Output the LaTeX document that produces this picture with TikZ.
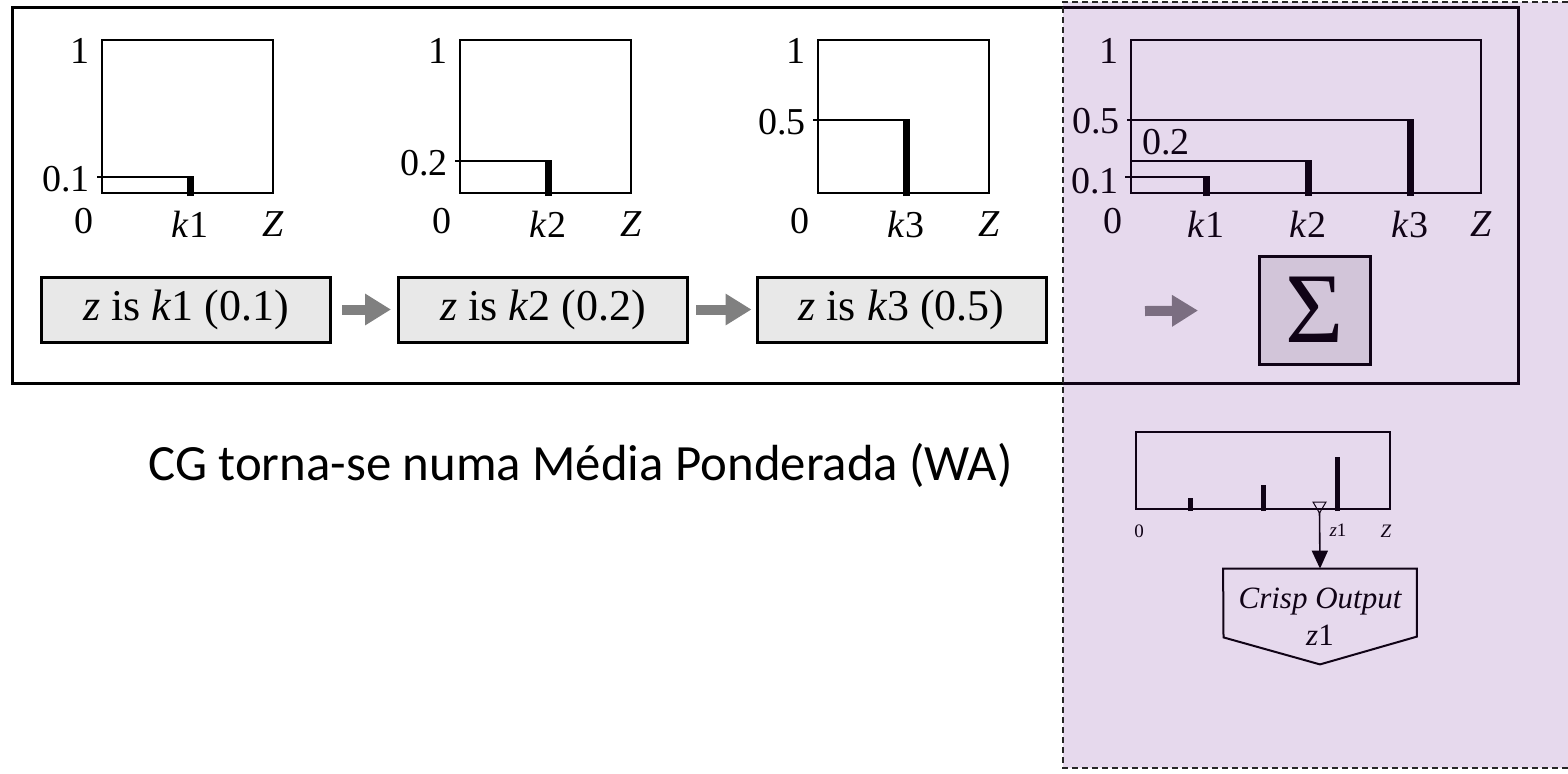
\documentclass[tikz,border=0pt]{standalone}
\usepackage{fontspec}
\setmainfont{Liberation Serif}
\newfontfamily\cgfont{Carlito}
\usetikzlibrary{arrows.meta, positioning}

\definecolor{rulefill}{RGB}{232,232,232}
\definecolor{arrowgrey}{RGB}{128,128,128}
\definecolor{tintpurple}{RGB}{100,20,140}

\tikzset{
  frame/.style={line width=1.5pt},
  axis/.style={line width=0.6pt},
  bar/.style={line width=3.5pt},
  lbl/.style={inner sep=0pt, font=\fontsize{19}{21}\selectfont},
  small/.style={inner sep=0pt, font=\fontsize{9.5}{11}\selectfont},
  rulebox/.style={draw, line width=1.5pt, fill=rulefill, minimum height=32.5pt,
    minimum width=144.5pt, font=\fontsize{22}{24}\selectfont},
  flow/.style={draw=arrowgrey, line width=5pt,
    -{Triangle[length=13pt, width=15pt]}}
}

\begin{document}
\begin{tikzpicture}[x=0.5pt, y=-0.5pt]
\useasboundingbox (0,0) rectangle (1568,773);

% outer frame round the rule chain
\draw[frame] (12,7) rectangle (1518,383);

% one small chart per fired rule
\foreach \i/\L/\lv/\lvl in {1/102/177/0.1, 2/460/161/0.2, 3/818/120/0.5}
{
  \draw[axis] (\L,40) rectangle ({\L+171},193);
  \draw[axis] ({\L-5},\lv) -- ({\L+88},\lv);
  \draw[bar] ({\L+88},196) -- ({\L+88},{\lv-1});
  \node[lbl, anchor=east] (one\i) at ({\L-12},51) {1};
  \node[lbl, anchor=east] (lev\i) at ({\L-12},{\lv+2}) {\lvl};
  \node[lbl] (zero\i) at ({\L-18},221) {0};
  \node[lbl] (k\i) at ({\L+88},224) {\textit{k}\i};
  \node[lbl] (zed\i) at ({\L+171},224) {\textit{Z}};
}

% the three rule consequents
\node[rulebox] (rule1) at (186,309.5) {\textit{z} is \textit{k}1 (0.1)};
\node[rulebox] (rule2) at (543,309.5) {\textit{z} is \textit{k}2 (0.2)};
\node[rulebox] (rule3) at (901.5,309.5) {\textit{z} is \textit{k}3 (0.5)};
\node[rulebox, minimum width=55.5pt, minimum height=54pt,
  font=\fontsize{50}{54}\selectfont] (sum) at (1315,310) {Σ};

\draw[flow, shorten <=5pt, shorten >=3pt] (rule1.east) -- (rule2.west);
\draw[flow, shorten <=3.5pt, shorten >=2pt] (rule2.east) -- (rule3.west);
\coordinate (sumin) at (1145,311);
\draw[flow, shorten >=30pt] (sumin) -- (sum.west);

% combined chart
\draw[axis] (1131,40) rectangle (1481,193);
\draw[axis] (1127,120) -- (1410,120);
\draw[axis] (1131,161) -- (1308,161);
\draw[axis] (1125,177) -- (1206,177);
\foreach \i/\bx/\lv in {1/1206/177, 2/1308/161, 3/1410/120}
{
  \draw[bar] (\bx,196) -- (\bx,{\lv-1});
  \node[lbl] (ks\i) at (\bx,224) {\textit{k}\i};
}
\node[lbl, anchor=east] (sone) at (1119,51) {1};
\node[lbl, anchor=east] (sfive) at (1120,121) {0.5};
\node[lbl, anchor=west] (stwo) at (1142,142) {0.2};
\node[lbl, anchor=east] (sten) at (1119,181) {0.1};
\node[lbl] (szero) at (1113,221) {0};
\node[lbl] (szed) at (1481,224) {\textit{Z}};

% caption
\node[anchor=west, inner sep=0pt, font=\cgfont\fontsize{25.4}{28}\selectfont]
  (caption) at (148,465) {CG torna-se numa Média Ponderada (WA)};

% weighted average result
\draw[axis] (1136,432) rectangle (1390,509);
\foreach \bx/\top in {1190/498, 1263/485, 1337/457}
  \draw[line width=2.5pt] (\bx,511) -- (\bx,\top);
\draw[line width=0.5pt] (1313,502) -- (1326,502) -- (1319.5,513) -- cycle;
\coordinate (mark) at (1319.5,512);
\node[small] (wzero) at (1139,531) {0};
\node[small] (wz) at (1338,530) {\textit{z}1};
\node[small] (wzed) at (1386,531) {\textit{Z}};

\node[inner sep=0pt, minimum width=96.5pt, minimum height=47.5pt, align=center,
  font=\itshape\fontsize{15.5}{18.5}\selectfont] (crisp) at (1320,616.5)
  {Crisp Output\\ \textit{z}\upshape 1};
\draw[line width=1pt] (crisp.north west) -- (crisp.north east) -- ++(0,68)
  -- (crisp.south) -- ++(-96.5,-27) -- cycle;
\draw[line width=0.8pt, -{Triangle[length=9pt, width=8pt]}] (mark) -- (crisp.north);

% tinted defuzzification area
\fill[tintpurple, fill opacity=0.16] (1063,2) rectangle (1568,768);
\draw[line width=0.6pt, dash pattern=on 3pt off 2pt, black!85]
  (1568,2) -- (1063,2) -- (1063,768) -- (1568,768);
\end{tikzpicture}
\end{document}
